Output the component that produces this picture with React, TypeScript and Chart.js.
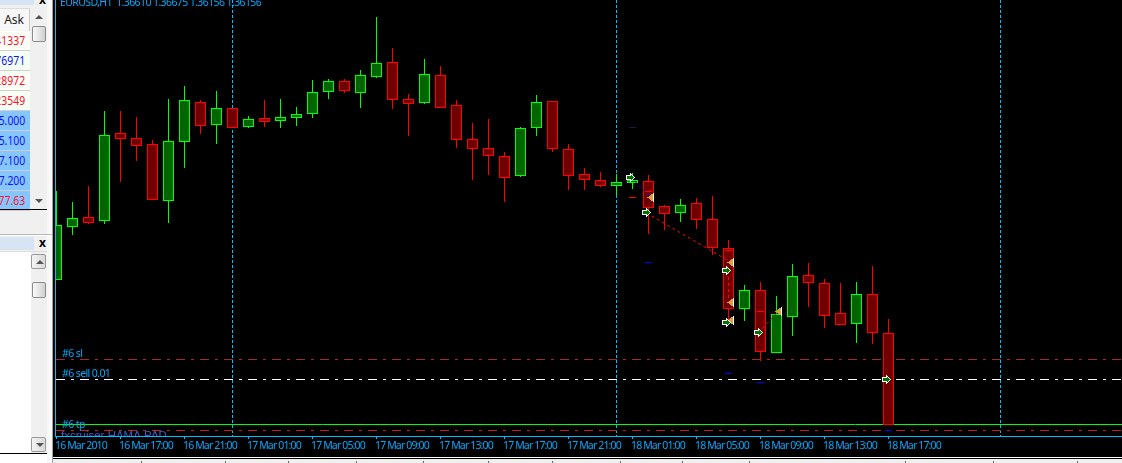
import React, { useEffect, useRef } from "react";
import { Chart, registerables } from "chart.js";

Chart.register(...registerables);

// ---------- data ----------
const opens = [1.36881,1.37146,1.37196,1.37176,1.37616,1.37591,1.37561,1.37276,1.37571,1.37771,1.37656,1.37741,1.37646,1.37691,1.37676,1.37691,1.37711,1.37821,1.37876,1.37816,1.37896,1.37971,1.37786,1.37766,1.37906,1.37756,1.37586,1.37541,1.37501,1.37401,1.37641,1.37776,1.37536,1.37411,1.37381,1.37351,1.37366,1.37376,1.37251,1.37216,1.37266,1.37186,1.37041,1.36736,1.36831,1.36516,1.36696,1.36906,1.36866,1.36716,1.36661,1.36811,1.36616];
const highs = [1.37326,1.37271,1.37351,1.37726,1.37726,1.37696,1.37581,1.37786,1.37851,1.37781,1.37826,1.37741,1.37701,1.37781,1.37786,1.37746,1.37881,1.37886,1.37886,1.37931,1.38196,1.38041,1.37811,1.37986,1.37951,1.37781,1.37666,1.37686,1.37521,1.37646,1.37806,1.37776,1.37561,1.37441,1.37421,1.37411,1.37416,1.37406,1.37256,1.37286,1.37291,1.37301,1.37081,1.36856,1.36871,1.36801,1.36961,1.36966,1.36886,1.36866,1.36871,1.36951,1.36686];
const lows = [1.36881,1.37106,1.37161,1.37161,1.37371,1.37476,1.37281,1.37166,1.37441,1.37611,1.37561,1.37641,1.37641,1.37646,1.37641,1.37651,1.37691,1.37786,1.37816,1.37741,1.37891,1.37736,1.37601,1.37761,1.37741,1.37541,1.37381,1.37406,1.37271,1.37396,1.37601,1.37521,1.37331,1.37331,1.37346,1.37306,1.37336,1.37111,1.37131,1.37171,1.37136,1.37006,1.36666,1.36676,1.36476,1.36516,1.36601,1.36746,1.36641,1.36656,1.36566,1.36561,1.36156];
const closes = [1.37156,1.37191,1.37166,1.37606,1.37586,1.37551,1.37281,1.37576,1.37781,1.37651,1.37741,1.37641,1.37686,1.37671,1.37696,1.37711,1.37821,1.37876,1.37826,1.37906,1.37966,1.37781,1.37761,1.37911,1.37741,1.37581,1.37536,1.37501,1.37391,1.37641,1.37771,1.37536,1.37401,1.37381,1.37351,1.37371,1.37381,1.37241,1.37211,1.37256,1.37181,1.37041,1.36736,1.36831,1.36521,1.36711,1.36901,1.36866,1.36701,1.36656,1.36811,1.36616,1.36156];

const tickLabels = ["16 Mar 2010","16 Mar 17:00","16 Mar 21:00","17 Mar 01:00","17 Mar 05:00","17 Mar 09:00","17 Mar 13:00","17 Mar 17:00","17 Mar 21:00","18 Mar 01:00","18 Mar 05:00","18 Mar 09:00","18 Mar 13:00","18 Mar 17:00"];
const tickEvery = 4;
const periodSeparators = [11, 35, 59];

const slLevel = 1.364835;
const sellLevel = 1.363835;
const tpLevel = 1.361585;
const lowerStopLevel = 1.361285;

const entryArrowX = [35.875,36.875,41.875,41.875,43.875,51.875];
const entryArrowY = [1.373935,1.372185,1.369285,1.366685,1.366185,1.363835];
const exitTriangleX = [37.125,42.125,42.125,42.125,45.125];
const exitTriangleY = [1.372935,1.369685,1.367685,1.366785,1.367235];
const redDashX = [36,37,42,42,44];
const redDashY = [1.372935,1.373235,1.370285,1.367385,1.367235];
const blueDashX = [37,42,44,52];
const blueDashY = [1.369685,1.364135,1.363685,1.361285];
const darkDashX = [36];
const darkDashY = [1.376435];
const tradeLineBlue = [[35.875,1.37396],[37.125,1.37296]];
const tradeLinesRed = [
  [[36.875,1.37216],[42.125,1.36971]],
  [[42,1.36926],[42,1.36771]],
  [[43.875,1.36616],[45.125,1.36726]],
];

const titleText = "EURUSD,H1  1.36610 1.36675 1.36156 1.36156";
const watchAsk = ["1.41337","0.76971","0.28972","1.23549","5.000","5.100","7.100","7.200","1177.63"];
const watchBlue = [false,true,false,false,true,true,true,true,false];
const tabDividers = [141,225,288,356,423,488,552,620,682,749,905,993,1077];

const Y_MIN = 1.36101;
const Y_MAX = 1.38281;
const X_MIN = -0.09375;
const X_MAX = 66.59375;

const CYAN = "#00bfff";
const LABEL = "#00a8fa";
const FONT = '"Noto Sans", sans-serif';

const ARROW_SPRITE = [
  "....W....",
  "....WW...",
  "WWWWWGW..",
  "WGGGGGGW.",
  "WGGGGGGGW",
  "WGGGGGGW.",
  "WWWWWGW..",
  "....WW...",
  "....W....",
];
const TRIANGLE_SPRITE = [
  "......W",
  "....OOW",
  "...OOOW",
  "..OOOOW",
  "OOOOOOW",
  "..OOOOW",
  "...OOOW",
  "....OOW",
  "......W",
];
const SPRITE_COLORS: Record<string, string> = { W: "#ffffff", G: "#007400", O: "#dca040" };

function makeSprite(rows: string[]): HTMLCanvasElement {
  const c = document.createElement("canvas");
  c.width = rows[0].length;
  c.height = rows.length;
  const g = c.getContext("2d")!;
  rows.forEach((row, y) => {
    [...row].forEach((ch, x) => {
      if (SPRITE_COLORS[ch]) {
        g.fillStyle = SPRITE_COLORS[ch];
        g.fillRect(x, y, 1, 1);
      }
    });
  });
  return c;
}

const chartLabels = {
  id: "chartLabels",
  beforeDraw(chart: any) {
    chart.ctx.letterSpacing = "-0.85px";
  },
  afterDatasetsDraw(chart: any) {
    const { ctx, chartArea, scales } = chart;
    const x0 = scales.x.getPixelForValue(0);
    ctx.save();
    ctx.beginPath();
    ctx.rect(chartArea.left, 0, chartArea.right - chartArea.left, chartArea.bottom);
    ctx.clip();
    ctx.textAlign = "left";
    ctx.textBaseline = "alphabetic";
    ctx.letterSpacing = "-0.6px";
    ctx.font = `10.5px ${FONT}`;
    ctx.fillStyle = LABEL;
    ctx.fillText(titleText, x0 + 3.5, 6);
    ctx.fillText("#6 sl", x0 + 5.5, scales.y.getPixelForValue(slLevel) - 2.5);
    ctx.fillText("#6 sell 0.01", x0 + 5.5, scales.y.getPixelForValue(sellLevel) - 2.5);
    ctx.fillText("#6 tp", x0 + 5.5, scales.y.getPixelForValue(tpLevel) + 3.5);
    ctx.letterSpacing = "0px";
    ctx.font = '11.5px "Liberation Sans", sans-serif';
    ctx.fillStyle = "#3a5fcd";
    ctx.fillText("fxcruiser HAMA PAD", x0 + 4.5, scales.y.getPixelForValue(lowerStopLevel) + 8);
    ctx.restore();
  },
};

const abs = (left: number, top: number, width: number, height: number, extra: React.CSSProperties = {}): React.CSSProperties => ({
  position: "absolute", left, top, width, height, ...extra,
});

const ScrollBtn = ({ top, up, framed }: { top: number; up: boolean; framed: boolean }) => (
  <div style={abs(31, top, 15, 15, framed ? { border: "1px solid #9a9a9a", borderRadius: 2, background: "linear-gradient(90deg,#f4f4f4,#d8d8d8)", boxSizing: "border-box" } : {})}>
    <div style={abs(4, 5, 0, 0, {
      borderLeft: "4px solid transparent", borderRight: "4px solid transparent",
      [up ? "borderBottom" : "borderTop"]: "4px solid #555",
    } as React.CSSProperties)} />
  </div>
);
const Thumb = ({ top }: { top: number }) => (
  <div style={abs(31.5, top, 14, 16, { border: "1px solid #8c8c8c", borderRadius: 2, background: "linear-gradient(90deg,#fafafa,#d0d0d0)", boxSizing: "border-box" })} />
);

export default function App() {
  const ref = useRef<HTMLCanvasElement>(null);
  useEffect(() => {
    const rising = opens.map((o, i) => closes[i] > o);
    const arrow = makeSprite(ARROW_SPRITE);
    const tri = makeSprite(TRIANGLE_SPRITE);
    const pts = (xs: number[], ys: number[]) => xs.map((x, i) => ({ x, y: ys[i] }));
    const dashSet = (xs: number[], ys: number[], color: string) => ({
      type: "scatter", order: 2, data: pts(xs, ys), pointStyle: "line", pointRadius: 3.5,
      pointBorderColor: color, pointBorderWidth: 1, showLine: false,
    });
    const lvl = (y: number, color: string, dash: number[]) => ({
      type: "line", order: 6, data: [{ x: -0.03125, y }, { x: X_MAX, y }],
      borderColor: color, borderWidth: 1, borderDash: dash, pointRadius: 0, tension: 0,
    });
    const seg = (p: number[][], color: string) => ({
      type: "line", order: 3, data: p.map((q) => ({ x: q[0], y: q[1] })),
      borderColor: color, borderWidth: 1, borderDash: [3, 3], pointRadius: 0, tension: 0,
    });
    const chart = new Chart(ref.current!, {
      type: "bar",
      data: {
        datasets: [
          { type: "scatter", order: 0, data: pts(entryArrowX, entryArrowY), pointStyle: arrow, pointRadius: 5, showLine: false },
          { type: "scatter", order: 0, data: pts(exitTriangleX, exitTriangleY), pointStyle: tri, pointRadius: 5, showLine: false },
          dashSet(redDashX, redDashY, "#ff0000"),
          dashSet(blueDashX, blueDashY, "#0000ff"),
          dashSet(darkDashX, darkDashY, "#1a1a40"),
          seg(tradeLineBlue, "#0000ff"),
          ...tradeLinesRed.map((p) => seg(p, "#ff0000")),
          {
            type: "bar", order: 4, grouped: false, barThickness: 11, inflateAmount: 0, borderSkipped: false, borderWidth: 1,
            data: opens.map((o, i) => ({ x: i, y: [o, closes[i]] })),
            backgroundColor: rising.map((r) => (r ? "#006400" : "#6e0000")),
            borderColor: rising.map((r) => (r ? "#00ff00" : "#ff0000")),
          },
          {
            type: "bar", order: 5, grouped: false, barThickness: 1, inflateAmount: 0, borderWidth: 0,
            data: lows.map((l, i) => ({ x: i, y: [l, highs[i]] })),
            backgroundColor: rising.map((r) => (r ? "#00ff00" : "#ff0000")),
          },
          lvl(slLevel, "#a52a2a", [9, 6, 3, 6]),
          lvl(sellLevel, "#ffffff", [9, 6, 3, 6]),
          lvl(lowerStopLevel, "#c02020", [9, 6, 3, 6]),
          lvl(tpLevel, "#00ff00", []),
          ...periodSeparators.map((v) => ({
            type: "line", order: 7, data: [{ x: v, y: Y_MAX }, { x: v, y: Y_MIN }],
            borderColor: CYAN, borderWidth: 1, borderDash: [3, 2], pointRadius: 0, tension: 0,
          })),
        ] as any,
      },
      options: {
        animation: false,
        responsive: false,
        devicePixelRatio: 1,
        events: [],
        layout: { padding: 0, autoPadding: false },
        plugins: { legend: { display: false }, tooltip: { enabled: false }, title: { display: false } },
        scales: {
          x: {
            type: "linear",
            offset: false,
            min: X_MIN,
            max: X_MAX,
            afterBuildTicks: (s: any) => { s.ticks = tickLabels.map((_, i) => ({ value: i * tickEvery })); },
            afterFit: (s: any) => { s.height = 21; s.paddingLeft = 0; s.paddingRight = 0; },
            grid: { display: true, offset: false, drawOnChartArea: false, drawTicks: true, tickLength: 3, tickColor: CYAN },
            border: { display: true, color: CYAN, width: 1, z: 1 },
            ticks: {
              autoSkip: false, maxRotation: 0, minRotation: 0, align: "start", padding: 1, color: LABEL, labelOffset: -1.5,
              font: { family: FONT, size: 10.5 },
              callback: (v: any) => tickLabels[Math.round(Number(v) / tickEvery)] ?? "",
            },
          },
          y: {
            type: "linear",
            min: Y_MIN,
            max: Y_MAX,
            afterFit: (s: any) => { s.width = 2; },
            grid: { display: false },
            border: { display: true, color: CYAN, width: 1, z: 1 },
            ticks: { display: false },
          },
        },
      } as any,
      plugins: [chartLabels],
    });
    return () => chart.destroy();
  }, []);

  const rowText: React.CSSProperties = { fontFamily: FONT, fontSize: 13 };
  const headText: React.CSSProperties = { fontFamily: FONT, fontSize: 12 };
  return (
    <div style={{ position: "fixed", left: 0, top: 0, width: 1122, height: 463, overflow: "hidden", background: "#f0f0f0" }}>
      {/* upper panel */}
      <div style={abs(0, 0, 34, 5, { background: "#d6e4f4" })} />
      <div style={abs(39, -6, 12, 12, { ...headText, fontWeight: 700, lineHeight: "12px", color: "#000" })}>x</div>
      <div style={abs(0, 8, 30, 23, { background: "#f7f7f7", borderTop: "1px solid #dcdcdc", borderRight: "1px solid #c8c8c8", boxSizing: "border-box", ...headText, textAlign: "right", paddingRight: 5, lineHeight: "21px", color: "#222" })}>Ask</div>
      {watchAsk.map((t, i) => (
        <div key={i} style={abs(0, 31 + i * 20, 30, 20, {
          background: i < 4 ? (i % 2 ? "#f2fff2" : "#fbfff5") : "#85c6ff",
          borderBottom: "1px solid #cfcfcf", boxSizing: "border-box",
          display: "flex", justifyContent: "flex-end", overflow: "hidden", whiteSpace: "nowrap",
          paddingRight: 5, lineHeight: "19px", ...rowText, color: watchBlue[i] ? "#1010ff" : "#ff1030",
        })}><span style={{ display: "inline-block", transform: "scaleX(0.8)", transformOrigin: "right center", flexShrink: 0 }}>{t}</span></div>
      ))}
      <ScrollBtn top={10} up framed={false} />
      <Thumb top={26} />
      <ScrollBtn top={194} up={false} framed={false} />
      <div style={abs(0, 209, 47, 1, { background: "#000" })} />
      <div style={abs(47, 0, 5, 463, { background: "#f8f8f8" })} />
      <div style={abs(0, 234, 52, 1, { background: "#b8b8b8" })} />
      <div style={abs(0, 235, 52, 1, { background: "#ffffff" })} />
      {/* lower panel */}
      <div style={abs(0, 237, 34, 13, { background: "#d6e4f4" })} />
      <div style={abs(39, 237, 12, 12, { ...headText, fontWeight: 700, lineHeight: "12px", color: "#000" })}>x</div>
      <div style={abs(0, 251, 47, 1, { background: "#dddddd" })} />
      <div style={abs(0, 252, 31, 201, { background: "#ffffff" })} />
      <ScrollBtn top={254} up framed />
      <Thumb top={282} />
      <ScrollBtn top={437} up={false} framed />
      <div style={abs(0, 453, 47, 1, { background: "#000" })} />
      <div style={abs(0, 454, 47, 9, { background: "#ffffff" })} />
      {/* separators */}
      <div style={abs(52, 0, 1, 463, { background: "#a0a0a0" })} />
      <canvas ref={ref} width={1069} height={457} style={{ position: "absolute", left: 53, top: 0, background: "#000", display: "block" }} />
      <div style={abs(53, 457, 1069, 1, { background: "#ffffff" })} />
      <div style={abs(53, 458, 1069, 1, { background: "#000" })} />
      {tabDividers.map((x) => (
        <div key={x} style={abs(x, 461, 1, 2, { background: "#666" })} />
      ))}
    </div>
  );
}
